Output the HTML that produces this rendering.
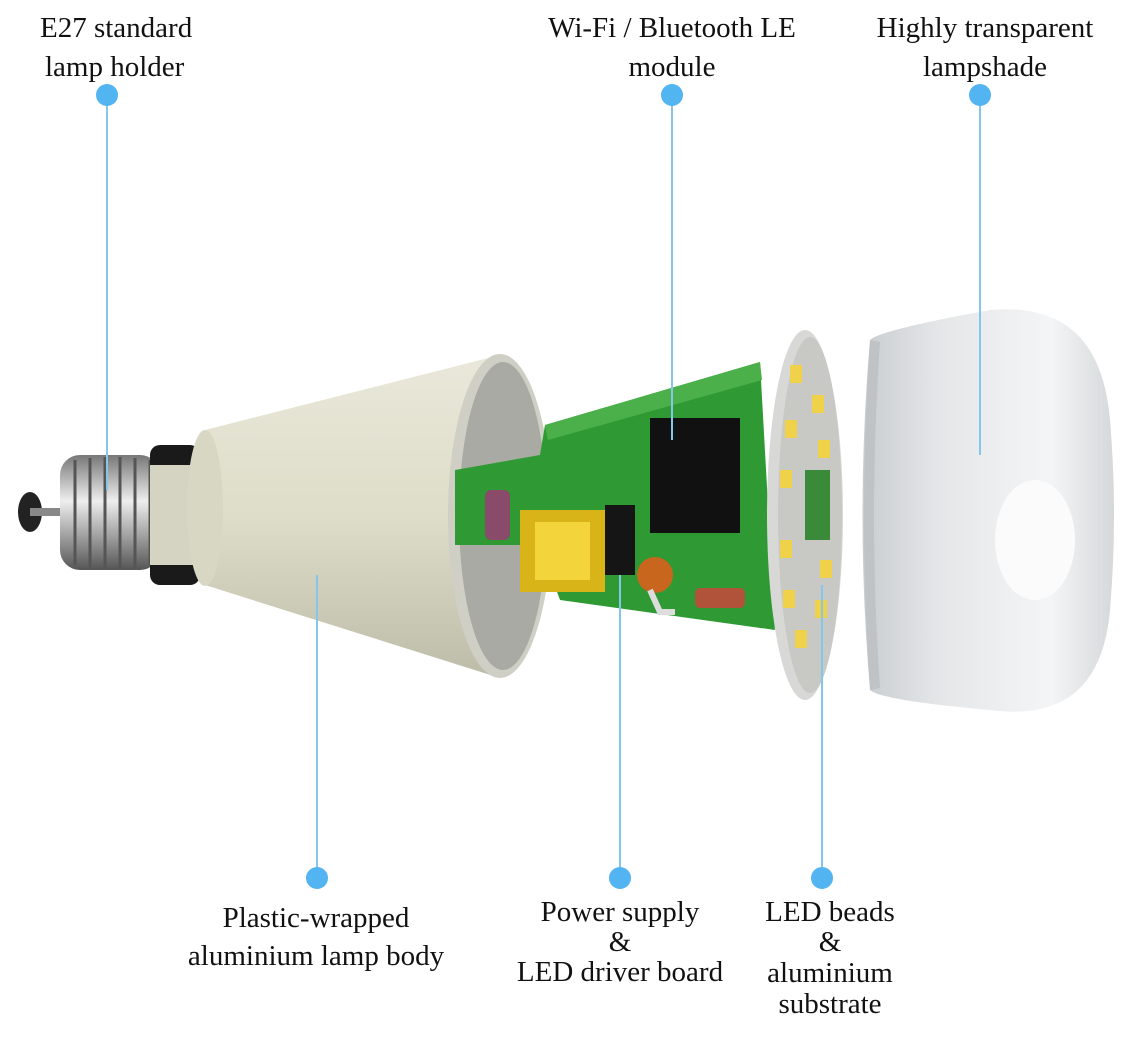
<!DOCTYPE html>
<html><head><meta charset="utf-8"><style>
html,body{margin:0;padding:0;background:#fff;}
svg{display:block;}
text{font-family:"Liberation Serif",serif;font-size:29px;fill:#111;}
</style></head><body>
<svg width="1128" height="1039" viewBox="0 0 1128 1039" xmlns="http://www.w3.org/2000/svg">
<defs>
<linearGradient id="shade" x1="0" y1="0" x2="1" y2="0">
<stop offset="0" stop-color="#c9cdd0"/><stop offset="0.3" stop-color="#e4e6e8"/><stop offset="0.75" stop-color="#f4f5f6"/><stop offset="1" stop-color="#d5d8da"/></linearGradient>
<linearGradient id="body" x1="0" y1="0" x2="0" y2="1">
<stop offset="0" stop-color="#e9e8da"/><stop offset="0.5" stop-color="#deddc9"/><stop offset="1" stop-color="#bdbca8"/></linearGradient>
<linearGradient id="screw" x1="0" y1="0" x2="0" y2="1">
<stop offset="0" stop-color="#777"/><stop offset="0.4" stop-color="#eee"/><stop offset="1" stop-color="#555"/></linearGradient>
</defs>
<ellipse cx="30" cy="512" rx="12" ry="20" fill="#222"/>
<rect x="30" y="508" width="40" height="8" fill="#888"/>
<rect x="60" y="455" width="100" height="115" rx="20" fill="url(#screw)"/>
<g stroke="#555" stroke-width="3" fill="none">
<path d="M75 460 L75 565 M90 458 L90 568 M105 457 L105 569 M120 457 L120 569 M135 458 L135 568 M150 460 L150 565"/></g>
<rect x="150" y="445" width="50" height="140" rx="10" fill="#1a1a1a"/>
<rect x="150" y="465" width="70" height="100" fill="#d5d4c2"/>
<polygon points="205,430 500,355 500,678 205,585" fill="url(#body)"/>
<ellipse cx="205" cy="508" rx="18" ry="78" fill="#d8d7c4"/>
<ellipse cx="500" cy="516" rx="52" ry="162" fill="#cfcfc5"/>
<ellipse cx="503" cy="516" rx="44" ry="154" fill="#a9aaa4"/>
<polygon points="455,470 540,455 545,425 760,362 775,630 560,600 540,545 455,545" fill="#2f9a33"/>
<polygon points="545,425 760,362 762,380 548,440" fill="#4bb04a"/>
<rect x="650" y="418" width="90" height="115" fill="#111"/>
<rect x="520" y="510" width="85" height="82" fill="#d9b418"/>
<rect x="535" y="522" width="55" height="58" fill="#f3d43a"/>
<rect x="605" y="505" width="30" height="70" fill="#151515"/>
<rect x="485" y="490" width="25" height="50" rx="6" fill="#8a4a6a"/>
<ellipse cx="655" cy="575" rx="18" ry="18" fill="#c8661e"/>
<rect x="695" y="588" width="50" height="20" rx="5" fill="#b0533a"/>
<path d="M650 590 L660 612 L675 612" stroke="#ddd" stroke-width="6" fill="none"/>
<ellipse cx="805" cy="515" rx="38" ry="185" fill="#d8d8d6"/>
<ellipse cx="810" cy="515" rx="32" ry="178" fill="#c8c8c5"/>
<g fill="#f0d24a">
<rect x="790" y="365" width="12" height="18"/><rect x="812" y="395" width="12" height="18"/><rect x="818" y="440" width="12" height="18"/><rect x="785" y="420" width="12" height="18"/><rect x="780" y="470" width="12" height="18"/><rect x="780" y="540" width="12" height="18"/><rect x="783" y="590" width="12" height="18"/><rect x="795" y="630" width="12" height="18"/><rect x="815" y="600" width="12" height="18"/><rect x="820" y="560" width="12" height="18"/></g>
<rect x="805" y="470" width="25" height="70" fill="#3a8a3a"/>
<path d="M870 340 Q880 330 990 310 Q1100 300 1110 420 Q1118 515 1110 610 Q1100 725 990 710 Q880 700 870 690 Q855 515 870 340 Z" fill="url(#shade)"/>
<path d="M870 340 Q858 515 870 690 L880 688 Q868 515 880 342 Z" fill="#bfc3c6"/>
<ellipse cx="1035" cy="540" rx="40" ry="60" fill="#fbfbfb"/>
<g stroke="#86c6ea" stroke-width="2">
<line x1="107" y1="95" x2="107" y2="490"/>
<line x1="672" y1="95" x2="672" y2="440"/>
<line x1="980" y1="95" x2="980" y2="455"/>
<line x1="317" y1="878" x2="317" y2="575"/>
<line x1="620" y1="878" x2="620" y2="575"/>
<line x1="822" y1="878" x2="822" y2="585"/>
</g>
<g fill="#52b4f0">
<circle cx="107" cy="95" r="11"/><circle cx="672" cy="95" r="11"/><circle cx="980" cy="95" r="11"/>
<circle cx="317" cy="878" r="11"/><circle cx="620" cy="878" r="11"/><circle cx="822" cy="878" r="11"/>
</g>
<text x="40" y="37">E27 standard</text>
<text x="45" y="76">lamp holder</text>
<text x="672" y="37" text-anchor="middle">Wi-Fi / Bluetooth LE</text>
<text x="672" y="76" text-anchor="middle">module</text>
<text x="985" y="37" text-anchor="middle">Highly transparent</text>
<text x="985" y="76" text-anchor="middle">lampshade</text>
<text x="316" y="927" text-anchor="middle">Plastic-wrapped</text>
<text x="316" y="965" text-anchor="middle">aluminium lamp body</text>
<text x="620" y="921" text-anchor="middle">Power supply</text>
<text x="620" y="951" text-anchor="middle">&amp;</text>
<text x="620" y="981" text-anchor="middle">LED driver board</text>
<text x="830" y="921" text-anchor="middle">LED beads</text>
<text x="830" y="951" text-anchor="middle">&amp;</text>
<text x="830" y="982" text-anchor="middle">aluminium</text>
<text x="830" y="1013" text-anchor="middle">substrate</text>
</svg>
</body></html>
